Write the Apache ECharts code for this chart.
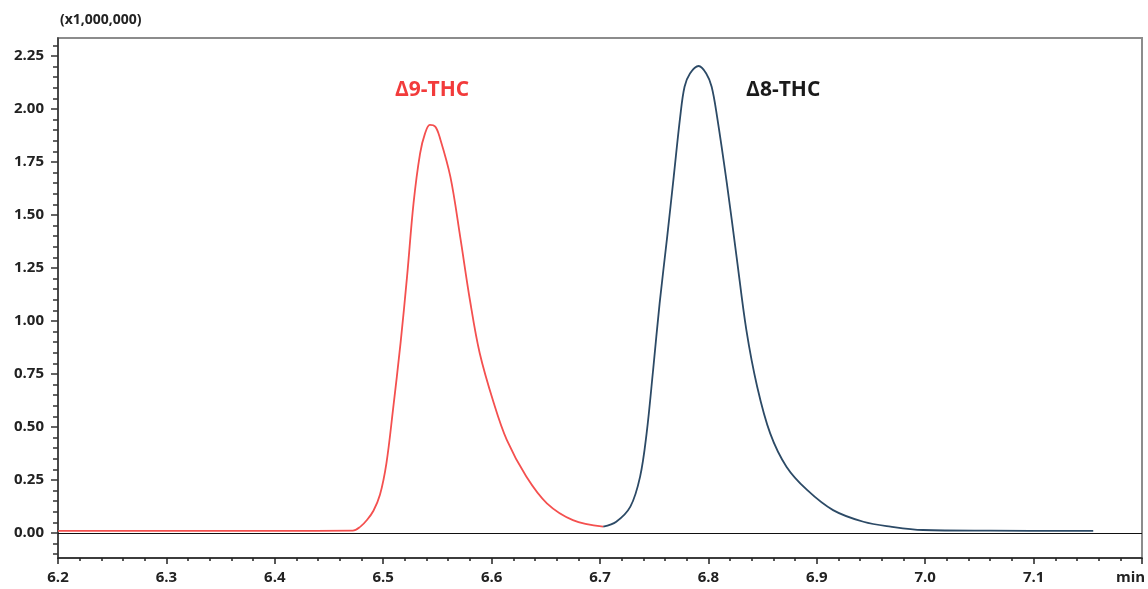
<!DOCTYPE html>
<html>
<head>
    <meta charset="UTF-8">
    <title>Δ9-THC / Δ8-THC chromatogram</title>
    <script src="https://cdn.jsdelivr.net/npm/echarts@6.0.0/dist/echarts.min.js"></script>
    <style>
        * { margin: 0; padding: 0; box-sizing: border-box; }
        body { background: #fff; }
        #chart { width: 1148px; height: 589px; }
    </style>
</head>
<body>
    <div id="chart"></div>
    <script>
        // retention time (min) and intensity (x1,000,000)
        const d9Time = [6.20, 6.30, 6.40, 6.472, 6.479, 6.485, 6.491, 6.497, 6.503, 6.509, 6.516, 6.522, 6.528, 6.534, 6.5386, 6.543,
            6.548, 6.552, 6.562, 6.571, 6.580, 6.589, 6.602, 6.614, 6.632, 6.651, 6.675, 6.703];
        const d9Value = [0.010, 0.010, 0.010, 0.011, 0.030, 0.061, 0.105, 0.180, 0.330, 0.580, 0.896, 1.209, 1.556, 1.790, 1.885, 1.925,
            1.917, 1.869, 1.680, 1.398, 1.099, 0.849, 0.613, 0.439, 0.266, 0.140, 0.061, 0.030];

        const d8Time = [6.703, 6.715, 6.728, 6.737, 6.743, 6.749, 6.755, 6.762, 6.768, 6.774, 6.778, 6.783, 6.791,
            6.798, 6.803, 6.808, 6.817, 6.826, 6.835, 6.845, 6.857, 6.872, 6.891, 6.915, 6.943, 6.968, 6.998, 7.06, 7.155];
        const d8Value = [0.030, 0.053, 0.124, 0.266, 0.470, 0.769, 1.083, 1.398, 1.680, 1.964, 2.105, 2.168, 2.203,
            2.168, 2.105, 1.964, 1.650, 1.303, 0.958, 0.690, 0.470, 0.313, 0.203, 0.108, 0.053, 0.030, 0.014, 0.011, 0.010];

        const yLabels = [0, 0.25, 0.5, 0.75, 1.0, 1.25, 1.5, 1.75, 2.0, 2.25];
        const yMinor = [-0.1, -0.05, 0.05, 0.1, 0.15, 0.2, 0.3, 0.35, 0.4, 0.45, 0.55, 0.6, 0.65, 0.7,
            0.8, 0.85, 0.9, 0.95, 1.05, 1.1, 1.15, 1.2, 1.3, 1.35, 1.4, 1.45, 1.55, 1.6, 1.65, 1.7,
            1.8, 1.85, 1.9, 1.95, 2.05, 2.1, 2.15, 2.2, 2.3];

        const peakNames = ['Δ9-THC', 'Δ8-THC'];
        const nameAt = [[6.545, 2.09], [6.869, 2.09]];

        const chart = echarts.init(document.getElementById('chart'));

        const pair = (xs, ys) => xs.map((x, i) => [x, ys[i]]);
        const tickFont = { color: '#222', fontSize: 15, fontWeight: 'bold', fontFamily: 'Open Sans' };

        const option = {
            animation: false,
            grid: {
                left: 58, right: 6, top: 38, bottom: 31,
                outerBoundsMode: 'none',
                show: true, borderColor: '#8c8c8c', borderWidth: 2
            },
            graphic: [{
                type: 'text', left: 60, top: 13,
                style: { text: '(x1,000,000)', fill: '#222', fontSize: 14, fontWeight: 'bold', fontFamily: 'Open Sans' }
            }],
            xAxis: {
                type: 'value',
                min: 6.2, max: 7.2, interval: 0.1,
                name: 'min', nameLocation: 'end', nameGap: -26,
                nameTextStyle: Object.assign({}, tickFont, { verticalAlign: 'top', padding: [12, 0, 0, 0] }),
                axisLine: { onZero: false, lineStyle: { color: '#222', width: 1.5 } },
                axisTick: { inside: false, length: 6, lineStyle: { color: '#222', width: 1.5 } },
                minorTick: { show: true, splitNumber: 5, length: 3, lineStyle: { color: '#222', width: 1.5 } },
                axisLabel: Object.assign({}, tickFont, {
                    margin: 12,
                    formatter: v => Math.abs(v - 7.2) < 1e-6 ? '' : v.toFixed(1)
                }),
                splitLine: { show: false }
            },
            yAxis: [{
                type: 'value',
                min: -0.118, max: 2.335,
                axisLine: { show: true, lineStyle: { color: '#333', width: 1.5 } },
                axisTick: { show: true, length: 7, customValues: yLabels, lineStyle: { color: '#333', width: 1.5 } },
                axisLabel: Object.assign({}, tickFont, {
                    margin: 14, customValues: yLabels,
                    formatter: v => v.toFixed(2)
                }),
                splitLine: { show: false }
            }, {
                type: 'value',
                min: -0.118, max: 2.335,
                position: 'left',
                axisLine: { show: false },
                axisTick: { show: true, length: 5, customValues: yMinor, lineStyle: { color: '#333', width: 1.5 } },
                axisLabel: { show: false },
                splitLine: { show: false }
            }],
            series: [{
                name: peakNames[0],
                type: 'line',
                data: pair(d9Time, d9Value),
                smooth: 0.35,
                symbol: 'none',
                lineStyle: { color: '#f4504f', width: 1.8 },
                markLine: {
                    silent: true, symbol: 'none', label: { show: false },
                    lineStyle: { color: '#111', width: 1, type: 'solid' },
                    data: [{ yAxis: 0 }]
                },
                markPoint: {
                    symbol: 'rect', symbolSize: 1, itemStyle: { color: 'transparent' },
                    label: { show: true, position: 'inside', formatter: peakNames[0], color: '#f23b3b', fontSize: 21, fontWeight: 'bold', fontFamily: 'Open Sans' },
                    data: [{ coord: nameAt[0] }]
                },
                z: 3
            }, {
                name: peakNames[1],
                type: 'line',
                data: pair(d8Time, d8Value),
                smooth: 0.35,
                symbol: 'none',
                lineStyle: { color: '#2c4a66', width: 1.8 },
                markPoint: {
                    symbol: 'rect', symbolSize: 1, itemStyle: { color: 'transparent' },
                    label: { show: true, position: 'inside', formatter: peakNames[1], color: '#1a1a1a', fontSize: 21, fontWeight: 'bold', fontFamily: 'Open Sans' },
                    data: [{ coord: nameAt[1] }]
                },
                z: 3
            }]
        };

        chart.setOption(option);
    </script>
</body>
</html>
